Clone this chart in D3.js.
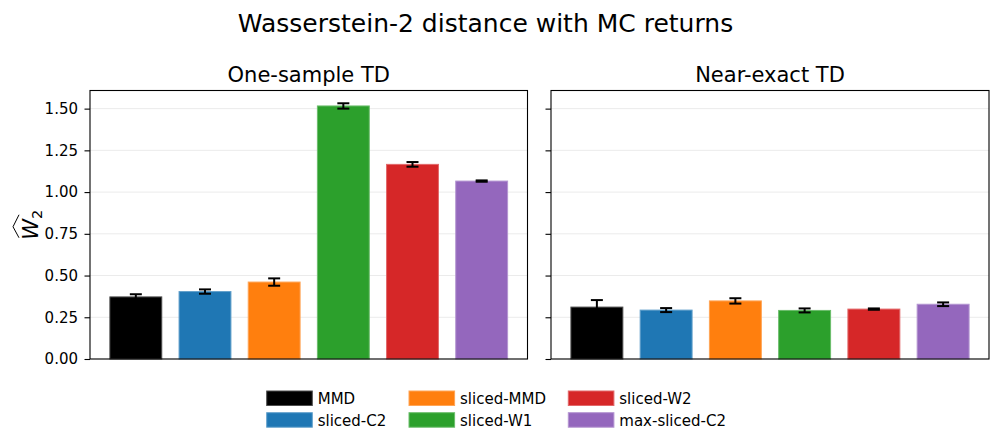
<!DOCTYPE html>
<html>
<head>
<meta charset="utf-8">
<script src="https://cdn.jsdelivr.net/npm/d3@7"></script>
<style>
  body { margin: 0; background: #fff; }
  text { font-family: "DejaVu Sans", sans-serif; }
</style>
</head>
<body>
<div id="chart"></div>
<script>
// data
const methods = ["MMD", "sliced-C2", "sliced-MMD", "sliced-W1", "sliced-W2", "max-sliced-C2"];
const colors = ["#000000", "#1f77b4", "#ff7f0e", "#2ca02c", "#d62728", "#9467bd"];
const oneSample = [0.372, 0.404, 0.461, 1.516, 1.166, 1.066];
const oneSampleErr = [0.016, 0.013, 0.022, 0.016, 0.014, 0.004];
const nearExact = [0.311, 0.293, 0.348, 0.291, 0.299, 0.328];
const nearExactErr = [0.042, 0.012, 0.016, 0.012, 0.004, 0.011];
const yTicks = [0, 0.25, 0.5, 0.75, 1.0, 1.25, 1.5];
const panelTitles = ["One-sample TD", "Near-exact TD"];

const W = 1000, H = 442;
const svg = d3.select("#chart").append("svg")
    .attr("width", W)
    .attr("height", H);

// shared y scale (sharey), 5% headroom like matplotlib autoscale
const yTop = 90.5, yBottom = 359;
const upper = oneSample.map((v, i) => v + oneSampleErr[i])
    .concat(nearExact.map((v, i) => v + nearExactErr[i]));
const yMax = d3.max(upper) * 1.05;
const y = d3.scaleLinear().domain([0, yMax]).range([yBottom, yTop]);

const panels = [
    { x0: 90, x1: 527.5, values: oneSample, errs: oneSampleErr, title: panelTitles[0], labels: true },
    { x0: 551, x1: 989, values: nearExact, errs: nearExactErr, title: panelTitles[1], labels: false }
];

panels.forEach(p => {
    const g = svg.append("g");
    const x = d3.scaleBand()
        .domain(methods)
        .range([p.x0, p.x1])
        .paddingInner(0.25)
        .paddingOuter(0.2875);

    // grid behind bars
    g.append("g")
      .selectAll("line")
      .data(yTicks)
      .enter().append("line")
        .attr("x1", p.x0)
        .attr("x2", p.x1)
        .attr("y1", d => y(d))
        .attr("y2", d => y(d))
        .attr("stroke", "#ebebeb")
        .attr("stroke-width", 1);

    // bars
    g.append("g")
      .selectAll("rect")
      .data(methods)
      .enter().append("rect")
        .attr("x", d => x(d))
        .attr("width", x.bandwidth())
        .attr("y", (d, i) => y(p.values[i]))
        .attr("height", (d, i) => y(0) - y(p.values[i]))
        .attr("fill", (d, i) => colors[i])
        .attr("stroke", (d, i) => d3.interpolateRgb(colors[i], "#fff")(0.3))
        .attr("stroke-width", 1);

    // error bars
    const eb = g.append("g")
      .selectAll("g")
      .data(methods)
      .enter().append("g")
        .attr("stroke", "#000")
        .attr("stroke-width", 2);
    eb.append("line")
        .attr("x1", d => x(d) + x.bandwidth() / 2)
        .attr("x2", d => x(d) + x.bandwidth() / 2)
        .attr("y1", (d, i) => y(p.values[i] - p.errs[i]))
        .attr("y2", (d, i) => y(p.values[i] + p.errs[i]));
    [-1, 1].forEach(s => {
        eb.append("line")
            .attr("x1", d => x(d) + x.bandwidth() / 2 - 6)
            .attr("x2", d => x(d) + x.bandwidth() / 2 + 6)
            .attr("y1", (d, i) => y(p.values[i] + s * p.errs[i]))
            .attr("y2", (d, i) => y(p.values[i] + s * p.errs[i]));
    });

    // y axis
    const axis = d3.axisLeft(y)
        .tickValues(yTicks)
        .tickSize(5.5)
        .tickPadding(6.5)
        .tickFormat(p.labels ? d3.format(".2f") : "");
    const ag = g.append("g")
        .attr("transform", `translate(${p.x0},0)`)
        .call(axis);
    ag.select(".domain").remove();
    ag.selectAll("line").attr("stroke", "#000").attr("stroke-width", 1.1);
    ag.selectAll("text")
        .style("font-size", "15px")
        .attr("fill", "#000");

    // frame
    g.append("rect")
        .attr("x", p.x0)
        .attr("y", yTop)
        .attr("width", p.x1 - p.x0)
        .attr("height", yBottom - yTop)
        .attr("fill", "none")
        .attr("stroke", "#000")
        .attr("stroke-width", 1.1);

    g.append("text")
        .attr("x", (p.x0 + p.x1) / 2)
        .attr("y", 81.5)
        .attr("text-anchor", "middle")
        .style("font-size", "21px")
        .text(p.title);
});

// figure title
svg.append("text")
    .attr("x", 485.5)
    .attr("y", 31.7)
    .attr("text-anchor", "middle")
    .style("font-size", "25px")
    .text("Wasserstein-2 distance with MC returns");

// y label: widehat W with subscript 2
const yl = svg.append("g")
    .attr("transform", `translate(38, ${(yTop + yBottom) / 2}) rotate(-90)`);
const ylText = yl.append("text")
    .attr("text-anchor", "middle")
    .style("font-size", "21px");
ylText.append("tspan").style("font-style", "italic").text("W");
ylText.append("tspan").attr("dy", 4).style("font-size", "14.7px").text("2");
yl.append("path")
    .attr("d", "M-13,-19 L-2,-25 L10,-19")
    .attr("fill", "none")
    .attr("stroke", "#000")
    .attr("stroke-width", 1);

// legend, 3 columns x 2 rows
const legendCols = [266.7, 409, 568.3];
const legendRows = [391, 412.7];
const leg = svg.append("g");
methods.forEach((m, i) => {
    const cx = legendCols[Math.floor(i / 2)];
    const cy = legendRows[i % 2];
    leg.append("rect")
        .attr("x", cx)
        .attr("y", cy)
        .attr("width", 45.6)
        .attr("height", 14.5)
        .attr("fill", colors[i])
        .attr("stroke", d3.interpolateRgb(colors[i], "#fff")(0.3))
        .attr("stroke-width", 1);
    leg.append("text")
        .attr("x", cx + 51)
        .attr("y", cy + 13)
        .style("font-size", "15px")
        .text(m);
});
</script>
</body>
</html>
